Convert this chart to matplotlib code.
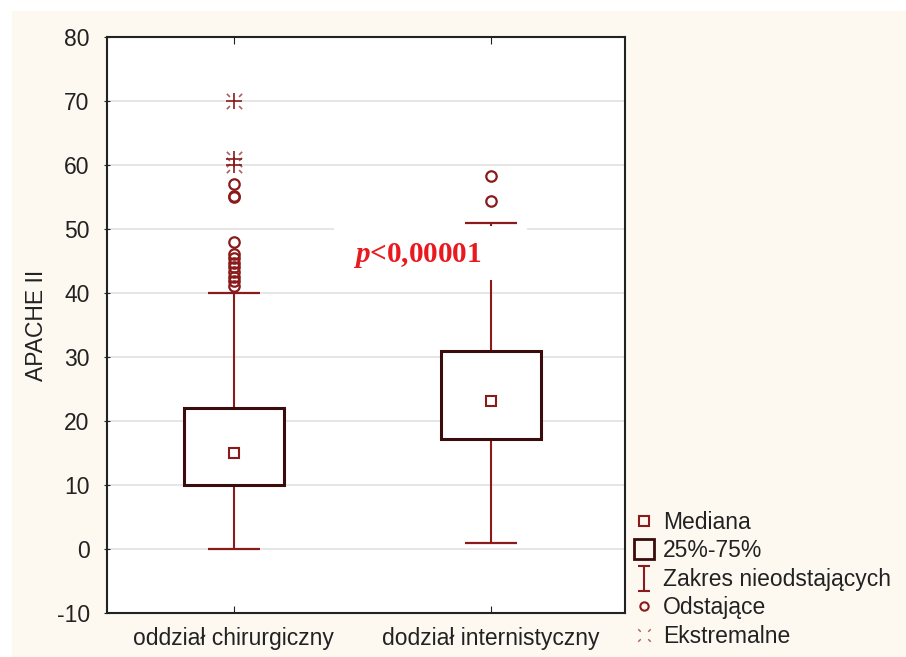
import matplotlib
matplotlib.use("Agg")
import matplotlib.pyplot as plt
from matplotlib.path import Path
from matplotlib.lines import Line2D
from matplotlib.patches import Rectangle

# Data: APACHE II scores by ward
categories = ["oddział chirurgiczny", "dodział internistyczny"]
medians = [15, 23.1]
q1 = [10, 17.2]
q3 = [22, 31]
whisker_low = [0, 1]
whisker_high = [40, 51]
outliers = [
    [41.1, 41.9, 42.5, 43.3, 44.0, 44.7, 45.4, 46.1, 48.0, 55.0, 55.2, 57.0],
    [54.3, 58.3],
]
extremes = [[70, 61, 60], []]
yticks = [-10, 0, 10, 20, 30, 40, 50, 60, 70, 80]
legend_labels = ["Mediana", "25%-75%", "Zakres nieodstających", "Odstające", "Ekstremalne"]
p_text = "<0,00001"

plt.rcParams["font.family"] = ["Liberation Sans", "DejaVu Sans"]
plt.rcParams["axes.unicode_minus"] = False
plt.rcParams["mathtext.fontset"] = "custom"
plt.rcParams["mathtext.it"] = "Liberation Serif:italic:bold"
plt.rcParams["mathtext.rm"] = "Liberation Serif:bold"

RED = "#8b1a1a"
DARK = "#3a0c0c"
CREAM = "#fdf9f1"
TXT = "#222222"
FS = 16.5

fig = plt.figure(figsize=(9.06, 6.57), dpi=100, facecolor="white")
fig.patches.append(Rectangle((12 / 906, 0), 1, 1 - 11 / 657, transform=fig.transFigure,
                             facecolor=CREAM, edgecolor="none", zorder=-10))
ax = fig.add_axes([107 / 906, 1 - 613 / 657, 518 / 906, 576 / 657])
ax.set_facecolor("white")

x = list(range(len(categories)))
box_w = 0.39
cap_w = 0.102

# whiskers and caps
ax.vlines(x, whisker_low, q1, color=RED, lw=1.5, zorder=3)
ax.vlines(x, q3, whisker_high, color=RED, lw=1.5, zorder=3)
ax.hlines(whisker_low, [i - cap_w for i in x], [i + cap_w for i in x], color=RED, lw=1.6, zorder=3)
ax.hlines(whisker_high, [i - cap_w for i in x], [i + cap_w for i in x], color=RED, lw=1.6, zorder=3)

# boxes
ax.bar(x, [b - a for a, b in zip(q1, q3)], bottom=q1, width=box_w,
       facecolor="white", edgecolor=DARK, linewidth=2.2, zorder=4)

# medians
ax.plot(x, medians, ls="none", marker="s", ms=7, mfc="white", mec=RED, mew=1.5, zorder=5)

# outliers
for i, vals in enumerate(outliers):
    ax.plot([i] * len(vals), vals, ls="none", marker="o", ms=7.5, mfc="none",
            mec=RED, mew=1.6, zorder=5)

# extreme-value marker: corner dots
dots = Path([(-1, -1), (-0.6, -0.6), (1, -1), (0.6, -0.6), (-1, 1), (-0.6, 0.6), (1, 1), (0.6, 0.6)],
            [Path.MOVETO, Path.LINETO] * 4)
for i, vals in enumerate(extremes):
    if vals:
        ax.plot([i] * len(vals), vals, ls="none", marker="+", ms=11, mec=RED, mew=1.2, zorder=5)
        ax.plot([i] * len(vals), vals, ls="none", marker=dots, ms=11, mec=RED, mew=1.2,
                alpha=0.7, zorder=5)

# p-value annotation on a white panel
ax.add_patch(Rectangle((0.389, 42.0), 0.752, 8.5, facecolor="white", edgecolor="none", zorder=6))
ax.text(0.712, 45.9, r"$\mathit{p}$" + p_text, ha="center", va="center", color="#e8191f",
        fontsize=21, fontweight="bold", family=["Liberation Serif"], zorder=7)

ax.set_xlim(-0.494, 1.522)
ax.set_ylim(-10, 80)
ax.set_yticks(yticks)
ax.set_xticks(x)
ax.set_xticklabels(categories)
ax.yaxis.grid(True, color="#e2e2e2", lw=1.2, zorder=0)
ax.set_axisbelow(True)
ax.tick_params(axis="y", direction="inout", length=5, pad=10, labelsize=FS, labelcolor=TXT,
               color=TXT)
ax.tick_params(axis="x", direction="in", length=5, top=True, labelsize=FS,
               labelcolor=TXT, pad=10, color=TXT)
for s in ax.spines.values():
    s.set_color(TXT)
    s.set_linewidth(1.5)
ax.set_ylabel("APACHE II", fontsize=FS, color=TXT, labelpad=6)

# legend
ibeam = Path([(-0.5, -1), (0.5, -1), (0, -1), (0, 1), (-0.5, 1), (0.5, 1)],
             [Path.MOVETO, Path.LINETO, Path.MOVETO, Path.LINETO, Path.MOVETO, Path.LINETO])
handles = [
    Line2D([], [], ls="none", marker="s", ms=6.5, mfc="none", mec=RED, mew=1.5),
    Line2D([], [], ls="none", marker="s", ms=14, mfc="none", mec=DARK, mew=2),
    Line2D([], [], ls="none", marker=ibeam, ms=18, mec=RED, mew=1.5),
    Line2D([], [], ls="none", marker="o", ms=6, mfc="none", mec=RED, mew=1.5),
    Line2D([], [], ls="none", marker=dots, ms=9, mec=RED, mew=1, alpha=0.7),
]
fig.legend(handles, legend_labels, loc="lower left", bbox_to_anchor=(623 / 906, 0),
           frameon=False, fontsize=FS, labelcolor=TXT, handlelength=1.0,
           handletextpad=0.35, labelspacing=0.24, borderaxespad=0)

fig.savefig("out.png", dpi=100, facecolor="white")
